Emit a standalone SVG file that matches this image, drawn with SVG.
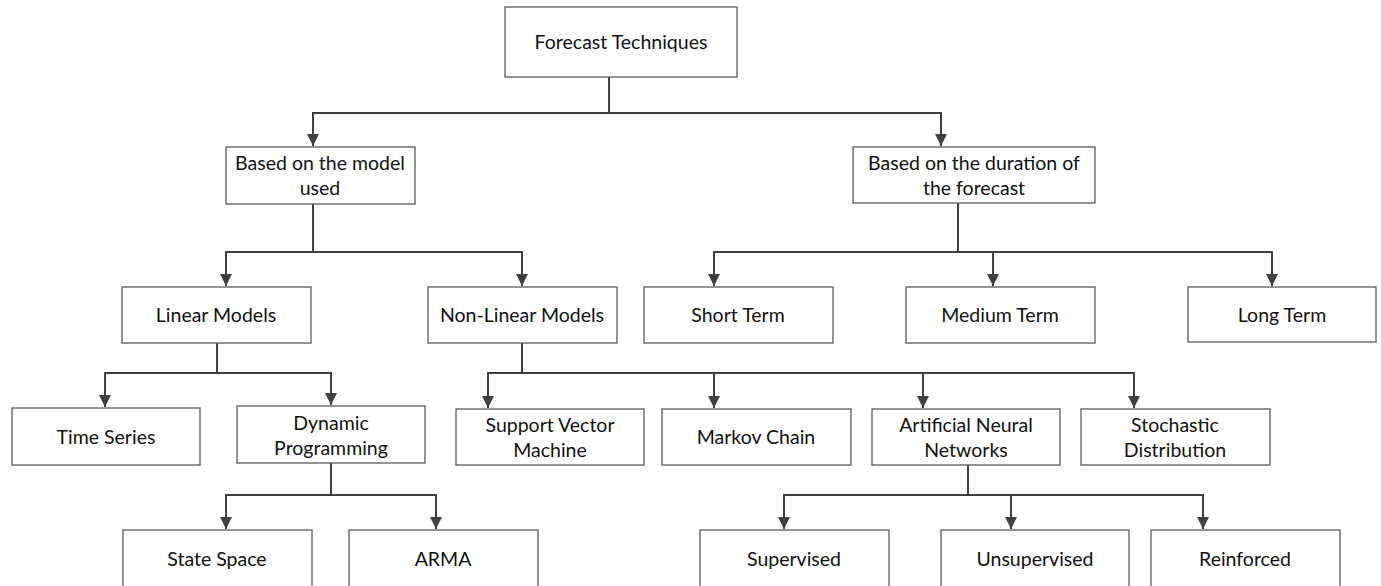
<svg xmlns="http://www.w3.org/2000/svg" width="1381" height="586" viewBox="0 0 1381 586">
<defs>
<style>
.box{fill:#fff;stroke:#5a5a5a;stroke-width:1.3}
.t{font-family:Lato,"Liberation Sans",sans-serif;font-size:19.5px;fill:#111;text-anchor:middle}
.c{fill:none;stroke:#404040;stroke-width:2}
.a{fill:none;stroke:#404040;stroke-width:2;marker-end:url(#ah)}
</style>
<marker id="ah" markerUnits="userSpaceOnUse" markerWidth="14" markerHeight="14" refX="12" refY="6" orient="auto">
<path d="M0,0 L12,6 L0,12 Z" fill="#404040"/>
</marker>
</defs>
<rect width="1381" height="586" fill="#fff"/>
<g id="connectors">
<path class="c" d="M609,77 V113 M313,113 H941"/>
<path class="a" d="M313,112 V146"/>
<path class="a" d="M941,112 V146"/>
<path class="c" d="M313,204 V252 M226,252 H522"/>
<path class="a" d="M226,251 V286"/>
<path class="a" d="M522,251 V286"/>
<path class="c" d="M958,203 V252 M714,252 H1272"/>
<path class="a" d="M714,251 V286"/>
<path class="a" d="M993,251 V286"/>
<path class="a" d="M1272,251 V286"/>
<path class="c" d="M217,343 V373 M105,373 H331"/>
<path class="a" d="M105,372 V407"/>
<path class="a" d="M331,372 V405"/>
<path class="c" d="M522,343 V373 M488,373 H1134"/>
<path class="a" d="M488,372 V408"/>
<path class="a" d="M714,372 V408"/>
<path class="a" d="M923,372 V408"/>
<path class="a" d="M1134,372 V408"/>
<path class="c" d="M331,463 V495 M226,495 H436"/>
<path class="a" d="M226,494 V529"/>
<path class="a" d="M436,494 V529"/>
<path class="c" d="M968,465 V495 M784,495 H1203"/>
<path class="a" d="M784,494 V529"/>
<path class="a" d="M1011,494 V529"/>
<path class="a" d="M1203,494 V529"/>
</g>
<g id="n-forecast"><rect class="box" x="505" y="7" width="232" height="70"/><text class="t" x="621" y="49">Forecast Techniques</text></g>
<g id="n-model"><rect class="box" x="226" y="147" width="189" height="57"/><text class="t" x="320" y="170">Based on the model</text><text class="t" x="320" y="195">used</text></g>
<g id="n-duration"><rect class="box" x="853" y="147" width="242" height="56"/><text class="t" x="974" y="170">Based on the duration of</text><text class="t" x="974" y="195">the forecast</text></g>
<g id="n-linear"><rect class="box" x="122" y="287" width="189" height="56"/><text class="t" x="216" y="322">Linear Models</text></g>
<g id="n-nonlinear"><rect class="box" x="428" y="287" width="189" height="56"/><text class="t" x="522" y="322">Non-Linear Models</text></g>
<g id="n-short"><rect class="box" x="644" y="287" width="189" height="56"/><text class="t" x="738" y="322">Short Term</text></g>
<g id="n-medium"><rect class="box" x="906" y="287" width="189" height="56"/><text class="t" x="1000" y="322">Medium Term</text></g>
<g id="n-long"><rect class="box" x="1188" y="287" width="188" height="55"/><text class="t" x="1282" y="322">Long Term</text></g>
<g id="n-timeseries"><rect class="box" x="12" y="408" width="188" height="57"/><text class="t" x="106" y="444">Time Series</text></g>
<g id="n-dynamic"><rect class="box" x="237" y="406" width="188" height="57"/><text class="t" x="331" y="430">Dynamic</text><text class="t" x="331" y="455">Programming</text></g>
<g id="n-svm"><rect class="box" x="456" y="409" width="188" height="56"/><text class="t" x="550" y="432">Support Vector</text><text class="t" x="550" y="457">Machine</text></g>
<g id="n-markov"><rect class="box" x="662" y="409" width="189" height="56"/><text class="t" x="756" y="444">Markov Chain</text></g>
<g id="n-ann"><rect class="box" x="872" y="409" width="188" height="56"/><text class="t" x="966" y="432">Artificial Neural</text><text class="t" x="966" y="457">Networks</text></g>
<g id="n-stochastic"><rect class="box" x="1081" y="409" width="189" height="56"/><text class="t" x="1175" y="432">Stochastic</text><text class="t" x="1175" y="457">Distribution</text></g>
<g id="n-statespace"><rect class="box" x="123" y="530" width="189" height="64"/><text class="t" x="217" y="566">State Space</text></g>
<g id="n-arma"><rect class="box" x="349" y="530" width="189" height="64"/><text class="t" x="443" y="566">ARMA</text></g>
<g id="n-supervised"><rect class="box" x="700" y="530" width="189" height="64"/><text class="t" x="794" y="566">Supervised</text></g>
<g id="n-unsupervised"><rect class="box" x="941" y="530" width="188" height="64"/><text class="t" x="1035" y="566">Unsupervised</text></g>
<g id="n-reinforced"><rect class="box" x="1151" y="530" width="189" height="64"/><text class="t" x="1245" y="566">Reinforced</text></g>
</svg>
